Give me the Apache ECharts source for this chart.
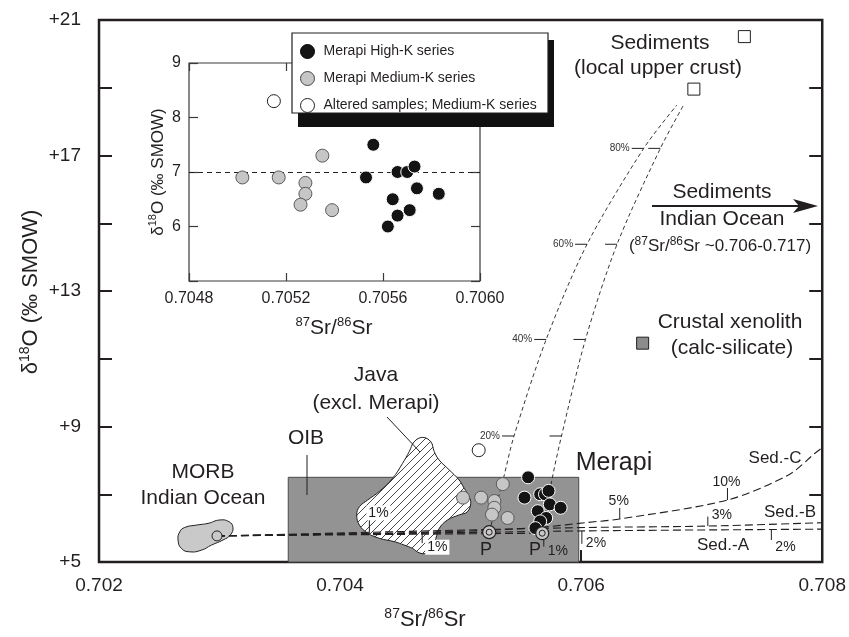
<!DOCTYPE html>
<html>
<head>
<meta charset="utf-8">
<script src="https://cdn.jsdelivr.net/npm/echarts@6/dist/echarts.min.js"></script>
<style>
  html, body { margin: 0; padding: 0; background: #fff; }
  #chart { width: 849px; height: 637px; }
</style>
</head>
<body>
<div id="chart"></div>
<script>
// ---------- data (87Sr/86Sr, δ18O ‰ SMOW) ----------
const highK = [
  [0.70556, 7.5], [0.70553, 6.9], [0.70566, 7.0], [0.70570, 7.0], [0.70573, 7.1],
  [0.70574, 6.7], [0.70583, 6.6], [0.70564, 6.5], [0.70571, 6.3], [0.70566, 6.2], [0.70562, 6.0]
];
const mediumK = [
  [0.70502, 6.9], [0.70517, 6.9], [0.70535, 7.3], [0.70528, 6.8], [0.70528, 6.6], [0.70526, 6.4], [0.70539, 6.3]
];
const altered = [[0.70515, 8.3]];

const primitiveMagmas = [[0.705237, 5.88], [0.705677, 5.85]];
const morbIndianOcean = [[0.702979, 5.77]];
const localSediments = [[0.707354, 20.51], [0.706935, 18.96]];
const crustalXenolith = [[0.70651, 11.46]];

// OIB field: lower-left and upper-right corners
const oibField = [[0.70357, 5.0], [0.70598, 7.5]];

// Java (excl. Merapi) field outline
const javaOutline = [
  [0.704684, 8.68], [0.704753, 8.55], [0.704781, 8.26], [0.704822, 8.01], [0.704905, 7.72],
  [0.704988, 7.42], [0.705029, 7.18], [0.705070, 6.93], [0.705084, 6.73], [0.705056, 6.48],
  [0.704988, 6.39], [0.704891, 6.24], [0.704822, 5.99], [0.704795, 5.70], [0.704767, 5.45],
  [0.704712, 5.26], [0.704657, 5.27], [0.704601, 5.40], [0.704532, 5.50], [0.704450, 5.60],
  [0.704325, 5.70], [0.704229, 5.85], [0.704160, 6.09], [0.704138, 6.39], [0.704160, 6.63],
  [0.704229, 6.83], [0.704325, 7.08], [0.704436, 7.47], [0.704518, 7.91], [0.704574, 8.26],
  [0.704615, 8.55]
];

// MORB Indian Ocean field outline
const morbOutline = [
  [0.702670, 5.89], [0.702712, 6.02], [0.702809, 6.09], [0.702905, 6.14], [0.703001, 6.24],
  [0.703078, 6.19], [0.703111, 6.02], [0.703090, 5.80], [0.703029, 5.65], [0.702933, 5.50],
  [0.702850, 5.35], [0.702753, 5.30], [0.702684, 5.40], [0.702656, 5.65]
];

// bulk-assimilation curves from the two primitive magmas towards local sediments
const assimP1 = [
  [0.705237, 5.88], [0.705352, 7.42], [0.705443, 8.72], [0.705710, 11.57],
  [0.706049, 14.38], [0.706519, 17.21], [0.706794, 18.49]
];
const assimP2 = [
  [0.705677, 5.85], [0.705757, 7.42], [0.705837, 8.72], [0.706036, 11.57],
  [0.706298, 14.38], [0.706657, 17.21], [0.706850, 18.49]
];
const assimTickLabels = ['20%', '40%', '60%', '80%'];

// source-contamination lines from MORB
const morbToP1 = [[0.702979, 5.77], [0.705237, 5.88]];
const morbToP2 = [[0.702979, 5.77], [0.705677, 5.85]];
const sedA = [[0.702979, 5.77], [0.705237, 5.88], [0.706060, 5.92], [0.707578, 5.96], [0.708, 5.97]];
const sedB = [[0.702979, 5.77], [0.705237, 5.96], [0.706060, 6.02], [0.707051, 6.06], [0.708, 6.16]];
const sedC = [
  [0.702979, 5.77], [0.704500, 5.86], [0.705240, 5.94], [0.705680, 6.03], [0.706060, 6.17],
  [0.706320, 6.27], [0.707214, 6.83], [0.707720, 7.57], [0.707940, 8.21], [0.708, 8.37]
];
// percentage marks on the contamination lines
const sedTickPoints = [
  [0.706320, 6.27], [0.707214, 6.83], [0.707051, 6.06], [0.707578, 5.96],
  [0.706006, 5.92], [0.704243, 5.83], [0.704681, 5.85], [0.705690, 5.66]
];
const sedTickLabels = ['5%', '10%', '3%', '2%', '2%', '1%', '1%', '1%'];

const mainXTicks = [0.702, 0.708, 0.002];
const mainYTicks = [5, 21, 2];
const insetXTicks = [0.7048, 0.7060, 0.0004];
const insetYTicks = [5, 9, 1];

// ---------- styling ----------
const FONT = '"Liberation Sans", Arial, Helvetica, sans-serif';
const INK = '#231f20';
const NAMES = ['Merapi High-K series', 'Merapi Medium-K series', 'Altered samples; Medium-K series'];

// diagonal hatch for the Java field
const hatch = document.createElement('canvas');
hatch.width = 8; hatch.height = 8;
(function () {
  const g = hatch.getContext('2d');
  g.fillStyle = '#fff'; g.fillRect(0, 0, 8, 8);
  g.strokeStyle = '#333'; g.lineWidth = 0.9;
  g.beginPath();
  g.moveTo(0, 8); g.lineTo(8, 0);
  g.moveTo(-1, 1); g.lineTo(1, -1);
  g.moveTo(7, 9); g.lineTo(9, 7);
  g.stroke();
})();

function textEl(x, y, text, size, extra, rotation) {
  const st = Object.assign({
    text: text, font: size + 'px ' + FONT, fontSize: size, fontFamily: FONT, fill: INK,
    align: 'center', verticalAlign: 'middle', textAlign: 'center', textVerticalAlign: 'middle'
  }, extra || {});
  return { type: 'text', x: x, y: y, rotation: rotation || 0, z: 40, silent: true, style: st };
}
function supText(x, y, text, size, supSize, rotation) {
  return textEl(x, y, text, size, {
    lineHeight: size + 4,
    rich: { s: { fontSize: supSize, fontFamily: FONT, fill: INK, verticalAlign: 'top', lineHeight: supSize + 1 } }
  }, rotation);
}
function lineEl(x1, y1, x2, y2, w) {
  return { type: 'line', z: 40, silent: true, shape: { x1, y1, x2, y2 }, style: { stroke: INK, lineWidth: w || 1 } };
}

function dashed(data, dash, width, smooth) {
  return {
    type: 'line', xAxisIndex: 0, yAxisIndex: 0, data: data, symbol: 'none', showSymbol: false,
    smooth: smooth || false, lineStyle: { color: INK, width: width, type: dash }, z: 3, silent: true
  };
}

const styleHigh = { color: '#141414', borderColor: '#fff', borderWidth: 1, opacity: 1 };
const styleMed = { color: '#c6c6c6', borderColor: '#5a5a5a', borderWidth: 1, opacity: 1 };
const styleAlt = { color: '#fff', borderColor: INK, borderWidth: 1, opacity: 1 };

// tick layout for percentage marks: tick length (px, negative = upwards) and label offset
const sedTickLayout = [
  { len: -11, lx: -1, ly: -18, align: 'center' },
  { len: -12, lx: -1, ly: -18, align: 'center' },
  { len: -9.5, lx: 4, ly: -11, align: 'left' },
  { len: 10.5, lx: 4, ly: 18, align: 'left' },
  { len: 13, lx: 4, ly: 12.5, align: 'left' },
  { len: -17, lx: -3, ly: -21, align: 'left', box: true },
  { len: 10, lx: 3, ly: 14, align: 'left', box: true },
  { len: 7, lx: 4, ly: 11, align: 'left' }
];

const chart = echarts.init(document.getElementById('chart'), null, { renderer: 'canvas' });

const option = {
  animation: false,
  textStyle: { fontFamily: FONT },
  grid: [
    { left: 99, top: 20, width: 725, height: 542, show: true, borderColor: INK, borderWidth: 2.5, backgroundColor: 'transparent' },
    { left: 189, top: 63, width: 291, height: 218, show: true, borderColor: '#3a3a3a', borderWidth: 1.2, backgroundColor: '#fff' }
  ],
  xAxis: [
    {
      type: 'value', gridIndex: 0, min: mainXTicks[0], max: mainXTicks[1], interval: mainXTicks[2],
      axisLine: { show: false }, splitLine: { show: false },
      axisTick: { inside: true, length: 12, lineStyle: { color: INK, width: 2 } },
      axisLabel: { fontSize: 19, color: INK, margin: 14, formatter: v => v.toFixed(3) }
    },
    {
      type: 'value', gridIndex: 1, min: insetXTicks[0], max: insetXTicks[1], interval: insetXTicks[2],
      axisLine: { show: false }, splitLine: { show: false },
      axisTick: { inside: true, length: 8, lineStyle: { color: '#3a3a3a', width: 1.2 } },
      axisLabel: { fontSize: 16, color: INK, margin: 10, formatter: v => v.toFixed(4) }
    },
    {
      type: 'value', gridIndex: 1, position: 'top', min: insetXTicks[0], max: insetXTicks[1], interval: insetXTicks[2],
      axisLine: { show: false }, splitLine: { show: false },
      axisTick: { inside: true, length: 8, lineStyle: { color: '#3a3a3a', width: 1.2 } },
      axisLabel: { show: false }
    }
  ],
  yAxis: [
    {
      type: 'value', gridIndex: 0, min: mainYTicks[0], max: mainYTicks[1], interval: mainYTicks[2],
      axisLine: { show: false }, splitLine: { show: false },
      axisTick: { inside: true, length: 13, lineStyle: { color: INK, width: 2 } },
      axisLabel: { fontSize: 19, color: INK, margin: 18, formatter: v => ((v - 5) % 4 === 0 ? '+' + v : '') }
    },
    {
      type: 'value', gridIndex: 0, position: 'right', min: mainYTicks[0], max: mainYTicks[1], interval: mainYTicks[2],
      axisLine: { show: false }, splitLine: { show: false },
      axisTick: { inside: true, length: 13, lineStyle: { color: INK, width: 2 } },
      axisLabel: { show: false }
    },
    {
      type: 'value', gridIndex: 1, min: insetYTicks[0], max: insetYTicks[1], interval: insetYTicks[2],
      axisLine: { show: false }, splitLine: { show: false },
      axisTick: { inside: true, length: 9, lineStyle: { color: '#3a3a3a', width: 1.2 } },
      axisLabel: { fontSize: 16, color: INK, margin: 8, formatter: v => (v === 5 ? '' : String(v)) }
    },
    {
      type: 'value', gridIndex: 1, position: 'right', min: insetYTicks[0], max: insetYTicks[1], interval: insetYTicks[2],
      axisLine: { show: false }, splitLine: { show: false },
      axisTick: { inside: true, length: 9, lineStyle: { color: '#3a3a3a', width: 1.2 } },
      axisLabel: { show: false }
    }
  ],
  legend: {
    left: 300, top: 44, orient: 'vertical', itemWidth: 14, itemHeight: 14, itemGap: 12, padding: 0,
    icon: 'circle', selectedMode: false, z: 30,
    textStyle: { fontSize: 14, fontFamily: FONT, color: INK, padding: [0, 0, 0, 4] },
    data: [
      { name: NAMES[0], itemStyle: { color: '#141414', borderColor: '#000', borderWidth: 1, opacity: 1 } },
      { name: NAMES[1], itemStyle: { color: '#c6c6c6', borderColor: '#444', borderWidth: 1, opacity: 1 } },
      { name: NAMES[2], itemStyle: { color: '#fff', borderColor: INK, borderWidth: 1, opacity: 1 } }
    ]
  },
  graphic: [
    // legend frame with drop shadow
    { type: 'rect', z: 25, silent: true, shape: { x: 298, y: 40, width: 256, height: 87 }, style: { fill: '#111' } },
    { type: 'rect', z: 26, silent: true, shape: { x: 292, y: 33, width: 256, height: 80 }, style: { fill: '#fff', stroke: INK, lineWidth: 1.2 } },

    // axis titles
    supText(425, 620, '{s|87}Sr/{s|86}Sr', 22, 14),
    supText(31, 292, '\u03b4{s|18}O (\u2030 SMOW)', 22, 14, Math.PI / 2),
    supText(334, 328, '{s|87}Sr/{s|86}Sr', 21, 13),
    supText(158, 172, '\u03b4{s|18}O (\u2030 SMOW)', 17, 11, Math.PI / 2),

    // annotations
    textEl(660, 43, 'Sediments', 21),
    textEl(658, 68, '(local upper crust)', 21),
    textEl(722, 192, 'Sediments', 21),
    textEl(722, 219, 'Indian Ocean', 21),
    supText(720, 246, '({s|87}Sr/{s|86}Sr ~0.706-0.717)', 17, 12),
    textEl(730, 322, 'Crustal xenolith', 21),
    textEl(732, 348, '(calc-silicate)', 21),
    textEl(376, 375, 'Java', 21),
    textEl(376, 403, '(excl. Merapi)', 21),
    textEl(306, 438, 'OIB', 21),
    textEl(203, 472, 'MORB', 21),
    textEl(203, 498, 'Indian Ocean', 21),
    textEl(614, 463, 'Merapi', 25),
    textEl(775, 458, 'Sed.-C', 17),
    textEl(790, 512, 'Sed.-B', 17),
    textEl(723, 545, 'Sed.-A', 17),
    textEl(486, 550, 'P', 18),
    textEl(535, 550, 'P', 18),

    // leader lines
    lineEl(307, 455, 307, 495, 1),
    lineEl(387, 417, 420, 452, 1),

    // arrow towards Indian Ocean sediments
    lineEl(652, 206, 800, 206, 2),
    { type: 'polygon', z: 40, silent: true, shape: { points: [[818, 206], [793, 199], [799, 206], [793, 213]] }, style: { fill: INK } }
  ],
  series: [
    // OIB field
    {
      type: 'custom', xAxisIndex: 0, yAxisIndex: 0, z: 1, silent: true, data: oibField,
      renderItem: function (params, api) {
        if (params.dataIndex !== 0) return null;
        const a = api.coord(oibField[0]), b = api.coord(oibField[1]);
        return {
          type: 'rect',
          shape: { x: a[0], y: b[1], width: b[0] - a[0], height: a[1] - b[1] },
          style: { fill: '#939393', stroke: '#4a4a4a', lineWidth: 1 }
        };
      }
    },
    // MORB field
    {
      type: 'custom', xAxisIndex: 0, yAxisIndex: 0, z: 2, silent: true, data: morbOutline,
      renderItem: function (params, api) {
        if (params.dataIndex !== 0) return null;
        return {
          type: 'polygon',
          shape: { points: morbOutline.map(p => api.coord(p)), smooth: 0.5 },
          style: { fill: '#c9c9c9', stroke: INK, lineWidth: 1 }
        };
      }
    },
    // Java field
    {
      type: 'custom', xAxisIndex: 0, yAxisIndex: 0, z: 2, silent: true, data: javaOutline,
      renderItem: function (params, api) {
        if (params.dataIndex !== 0) return null;
        return {
          type: 'polygon',
          shape: { points: javaOutline.map(p => api.coord(p)), smooth: 0.4 },
          style: { fill: { image: hatch, repeat: 'repeat' }, stroke: INK, lineWidth: 1 }
        };
      }
    },
    // contamination lines
    dashed(morbToP1, [8, 4], 1.1, false),
    dashed(morbToP2, [8, 4], 1.1, false),
    dashed(sedA, [8, 4], 1.1, 0.3),
    dashed(sedB, [8, 4], 1.1, 0.3),
    dashed(sedC, [8, 4], 1.1, 0.3),
    // assimilation curves
    dashed(assimP1, [4, 3], 0.9, 0.3),
    dashed(assimP2, [4, 3], 0.9, 0.3),
    // ticks on assimilation curves
    {
      type: 'custom', xAxisIndex: 0, yAxisIndex: 0, z: 3, silent: true,
      data: assimP1.slice(2, 6).concat(assimP2.slice(2, 6)),
      renderItem: function (params, api) {
        const p = api.coord([api.value(0), api.value(1)]);
        const children = [{
          type: 'line', shape: { x1: p[0] - 12, y1: p[1], x2: p[0], y2: p[1] },
          style: { stroke: INK, lineWidth: 1 }
        }];
        if (params.dataIndex < 4) {
          children.push({
            type: 'text', x: p[0] - 14, y: p[1],
            style: {
              text: assimTickLabels[params.dataIndex], font: '10px ' + FONT, fontSize: 10, fill: '#333',
              align: 'right', verticalAlign: 'middle', textAlign: 'right', textVerticalAlign: 'middle'
            }
          });
        }
        return { type: 'group', children: children };
      }
    },
    // percentage marks on contamination lines
    {
      type: 'custom', xAxisIndex: 0, yAxisIndex: 0, z: 4, silent: true, data: sedTickPoints,
      renderItem: function (params, api) {
        const i = params.dataIndex;
        const L = sedTickLayout[i];
        const p = api.coord([api.value(0), api.value(1)]);
        const st = {
          text: sedTickLabels[i], font: '14px ' + FONT, fontSize: 14, fill: INK,
          align: L.align, verticalAlign: 'middle', textAlign: L.align, textVerticalAlign: 'middle'
        };
        if (L.box) { st.backgroundColor = '#fff'; st.padding = [1, 2, 0, 2]; }
        return {
          type: 'group', children: [
            { type: 'line', shape: { x1: p[0], y1: p[1], x2: p[0], y2: p[1] + L.len }, style: { stroke: INK, lineWidth: 1 } },
            { type: 'text', x: p[0] + L.lx, y: p[1] + L.ly, style: st }
          ]
        };
      }
    },
    // main-diagram samples
    { type: 'scatter', name: NAMES[1], xAxisIndex: 0, yAxisIndex: 0, data: mediumK, symbolSize: 13, itemStyle: styleMed, z: 5, silent: true },
    { type: 'scatter', name: NAMES[2], xAxisIndex: 0, yAxisIndex: 0, data: altered, symbolSize: 13, itemStyle: styleAlt, z: 5, silent: true },
    { type: 'scatter', name: NAMES[0], xAxisIndex: 0, yAxisIndex: 0, data: highK, symbolSize: 13, itemStyle: styleHigh, z: 5, silent: true },
    // primitive magmas (P)
    { type: 'scatter', xAxisIndex: 0, yAxisIndex: 0, data: primitiveMagmas, symbolSize: 13, itemStyle: { color: '#c8c8c8', borderColor: INK, borderWidth: 1.2, opacity: 1 }, z: 6, silent: true },
    { type: 'scatter', xAxisIndex: 0, yAxisIndex: 0, data: primitiveMagmas, symbolSize: 6, itemStyle: { color: 'rgba(0,0,0,0)', borderColor: INK, borderWidth: 1, opacity: 1 }, z: 7, silent: true },
    // MORB average
    { type: 'scatter', xAxisIndex: 0, yAxisIndex: 0, data: morbIndianOcean, symbolSize: 10, itemStyle: { color: '#c9c9c9', borderColor: INK, borderWidth: 1, opacity: 1 }, z: 6, silent: true },
    // sediments and xenolith
    { type: 'scatter', xAxisIndex: 0, yAxisIndex: 0, data: localSediments, symbol: 'rect', symbolSize: 12, itemStyle: { color: '#fff', borderColor: INK, borderWidth: 1, opacity: 1 }, z: 6, silent: true },
    { type: 'scatter', xAxisIndex: 0, yAxisIndex: 0, data: crustalXenolith, symbol: 'rect', symbolSize: 12, itemStyle: { color: '#8c8c8c', borderColor: INK, borderWidth: 1, opacity: 1 }, z: 6, silent: true },

    // inset
    {
      type: 'scatter', name: NAMES[0], xAxisIndex: 1, yAxisIndex: 2, data: highK, symbolSize: 13, itemStyle: styleHigh, z: 5, silent: true,
      markLine: {
        silent: true, symbol: 'none', label: { show: false },
        lineStyle: { type: [5, 4], color: INK, width: 1 },
        data: [{ yAxis: 7 }]
      }
    },
    { type: 'scatter', name: NAMES[1], xAxisIndex: 1, yAxisIndex: 2, data: mediumK, symbolSize: 13, itemStyle: styleMed, z: 5, silent: true },
    { type: 'scatter', name: NAMES[2], xAxisIndex: 1, yAxisIndex: 2, data: altered, symbolSize: 13, itemStyle: styleAlt, z: 5, silent: true }
  ]
};

chart.setOption(option);
</script>
</body>
</html>
